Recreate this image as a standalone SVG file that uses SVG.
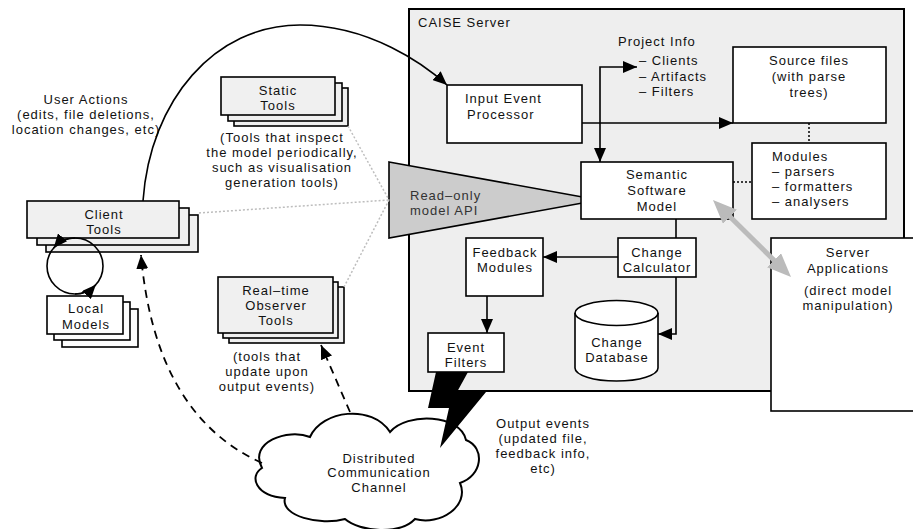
<svg xmlns="http://www.w3.org/2000/svg" width="913" height="529" viewBox="0 0 913 529">
<defs>
<style>
text{font-family:"Liberation Sans",Arial,Helvetica,sans-serif;font-size:13px;letter-spacing:1px;fill:#111}
.c{text-anchor:middle}
.box{fill:#fff;stroke:#000;stroke-width:1.6}
.tool{fill:#f0f0f0;stroke:#000;stroke-width:1.6}
.ln{fill:none;stroke:#000;stroke-width:1.6}
.dash{fill:none;stroke:#000;stroke-width:1.8;stroke-dasharray:8 6}
.dot{fill:none;stroke:#000;stroke-width:1.5;stroke-dasharray:2 2}
.gdot{fill:none;stroke:#bdbdbd;stroke-width:1.5;stroke-dasharray:2 2}
</style>
<marker id="ah" markerUnits="userSpaceOnUse" markerWidth="14" markerHeight="12" viewBox="0 0 14 12" refX="14" refY="6" orient="auto-start-reverse"><path d="M0,0 L14,6 L0,12 z" fill="#000"/></marker>
<marker id="gh" markerUnits="userSpaceOnUse" markerWidth="24" markerHeight="20" viewBox="0 0 24 20" refX="14" refY="10" orient="auto-start-reverse"><path d="M0,0 L24,10 L0,20 z" fill="#bbb"/></marker>
</defs>
<rect width="913" height="529" fill="#fff"/>

<g id="caise-server">
<rect x="409" y="9" width="495" height="382" fill="#eeeeee" stroke="#000" stroke-width="2"/>
<text x="418" y="27">CAISE Server</text>
</g>

<g id="project-info">
<text x="618" y="46">Project Info</text>
<text x="639" y="65">– Clients</text>
<text x="639" y="81">– Artifacts</text>
<text x="639" y="96">– Filters</text>
</g>

<g id="input-event-processor">
<rect class="box" x="447" y="85" width="135" height="58"/>
<text x="465" y="103">Input Event</text>
<text x="467" y="119">Processor</text>
</g>

<g id="source-files">
<rect class="box" x="733" y="47" width="153" height="76"/>
<text class="c" x="809" y="65">Source files</text>
<text class="c" x="809" y="81">(with parse</text>
<text class="c" x="809" y="97">trees)</text>
</g>

<g id="modules">
<rect class="box" x="752" y="143" width="134" height="76"/>
<text x="772" y="161">Modules</text>
<text x="772" y="176">– parsers</text>
<text x="772" y="191">– formatters</text>
<text x="772" y="206">– analysers</text>
</g>

<g id="read-only-api">
<polygon points="389,162 599,200 389,238" fill="#cccccc" stroke="#000" stroke-width="1.6"/>
<text x="410" y="200" style="fill:#333">Read–only</text>
<text x="410" y="215" style="fill:#333">model API</text>
</g>

<g id="semantic-software-model">
<rect class="box" x="581" y="162" width="152" height="57"/>
<text class="c" x="657" y="179">Semantic</text>
<text class="c" x="657" y="195">Software</text>
<text class="c" x="657" y="211">Model</text>
</g>

<g id="change-calculator">
<rect class="box" x="618" y="238" width="78" height="39"/>
<text class="c" x="657" y="257">Change</text>
<text class="c" x="657" y="272">Calculator</text>
</g>

<g id="feedback-modules">
<rect class="box" x="466" y="238" width="77" height="58"/>
<text class="c" x="505" y="257">Feedback</text>
<text class="c" x="505" y="272">Modules</text>
</g>

<g id="event-filters">
<rect class="box" x="428" y="333" width="76" height="39"/>
<text class="c" x="466" y="352">Event</text>
<text class="c" x="466" y="367">Filters</text>
</g>

<g id="change-database">
<path class="box" d="M575,313 L575,368 A41.5,13 0 0,0 658,368 L658,313 A41.5,12.5 0 0,0 575,313 Z"/>
<path class="ln" d="M575,313 A41.5,12.5 0 0,0 658,313"/>
<text class="c" x="617" y="347">Change</text>
<text class="c" x="617" y="362">Database</text>
</g>

<g id="server-applications">
<rect class="box" x="771" y="238" width="160" height="173"/>
<text class="c" x="848" y="257">Server</text>
<text class="c" x="848" y="273">Applications</text>
<text class="c" x="848" y="295">(direct model</text>
<text class="c" x="848" y="310">manipulation)</text>
</g>

<g id="user-actions-label">
<text class="c" x="86" y="104">User Actions</text>
<text class="c" x="86" y="119">(edits, file deletions,</text>
<text class="c" x="86" y="134">location changes, etc)</text>
</g>

<g id="client-tools">
<rect class="tool" x="46" y="215" width="152" height="37"/>
<rect class="tool" x="37" y="208" width="152" height="37"/>
<rect class="tool" x="27" y="201" width="152" height="37"/>
<text class="c" x="104" y="219">Client</text>
<text class="c" x="104" y="234">Tools</text>
</g>

<g id="local-models">
<rect class="box" x="62" y="309" width="76" height="38"/>
<rect class="box" x="54" y="302" width="76" height="38"/>
<rect class="box" x="47" y="296" width="76" height="38"/>
<text class="c" x="86" y="313">Local</text>
<text class="c" x="86" y="329">Models</text>
</g>

<g id="static-tools">
<rect class="tool" x="234" y="88" width="114" height="38"/>
<rect class="tool" x="228" y="83" width="114" height="38"/>
<rect class="tool" x="221" y="77" width="114" height="38"/>
<text class="c" x="278" y="95">Static</text>
<text class="c" x="278" y="110">Tools</text>
<text class="c" x="282" y="142">(Tools that inspect</text>
<text class="c" x="282" y="157">the model periodically,</text>
<text class="c" x="282" y="172">such as visualisation</text>
<text class="c" x="282" y="187">generation tools)</text>
</g>

<g id="realtime-observer-tools">
<rect class="tool" x="229" y="287" width="115" height="56"/>
<rect class="tool" x="223" y="282" width="115" height="56"/>
<rect class="tool" x="218" y="277" width="115" height="56"/>
<text class="c" x="276" y="295">Real–time</text>
<text class="c" x="276" y="310">Observer</text>
<text class="c" x="276" y="325">Tools</text>
<text class="c" x="267" y="361">(tools that</text>
<text class="c" x="267" y="376">update upon</text>
<text class="c" x="267" y="391">output events)</text>
</g>

<g id="communication-channel">
<path d="M262,468 C248,442 288,428 310,437 C322,410 372,404 390,432 C407,412 460,414 466,440 C486,448 482,476 460,483 C470,506 440,526 415,519 C400,535 360,532 345,519 C320,526 280,516 285,498 C255,496 249,476 262,468 Z" fill="#fff" stroke="#000" stroke-width="2"/>
<text class="c" x="379" y="463">Distributed</text>
<text class="c" x="379" y="477">Communication</text>
<text class="c" x="379" y="492">Channel</text>
</g>

<g id="output-events-label">
<text class="c" x="543" y="428">Output events</text>
<text class="c" x="543" y="443">(updated file,</text>
<text class="c" x="543" y="458">feedback info,</text>
<text class="c" x="543" y="473">etc)</text>
</g>

<g id="connectors">
<path class="ln" d="M143,201 C150,100 215,25 300,25 C370,25 425,65 447,85" marker-end="url(#ah)"/>
<path class="ln" d="M582,123 H733" marker-end="url(#ah)"/>
<path class="ln" d="M637,67 H600 V162" marker-start="url(#ah)" marker-end="url(#ah)"/>
<path class="dot" d="M809,123 V143"/>
<path class="dot" d="M733,182 H752"/>
<path class="ln" d="M676,219 V238"/>
<path class="ln" d="M618,257 H543" marker-end="url(#ah)"/>
<path class="ln" d="M676,277 V334 H658" marker-end="url(#ah)"/>
<path class="ln" d="M487,296 V333" marker-end="url(#ah)"/>
<line x1="720.1" y1="207" x2="783.9" y2="270" stroke="#bbb" stroke-width="5" marker-start="url(#gh)" marker-end="url(#gh)"/>
<path class="gdot" d="M199,213 L389,200"/>
<path class="gdot" d="M348,126 L389,200"/>
<path class="gdot" d="M344,287 L389,200"/>
<circle cx="75" cy="266" r="28" class="ln"/>
<path class="ln" d="M75,238 A28,28 0 0,0 53.6,248" marker-end="url(#ah)"/>
<path class="ln" d="M75,294 A28,28 0 0,0 95.8,284.7" marker-end="url(#ah)"/>
<path class="dash" d="M262,463 Q155,415 141,255" marker-end="url(#ah)"/>
<path class="dash" d="M350,412 L321,345" marker-end="url(#ah)"/>
<polygon points="436,372 468,372 457,392 486,392 440,448 449,408 428,408" fill="#000"/>
</g>
</svg>
